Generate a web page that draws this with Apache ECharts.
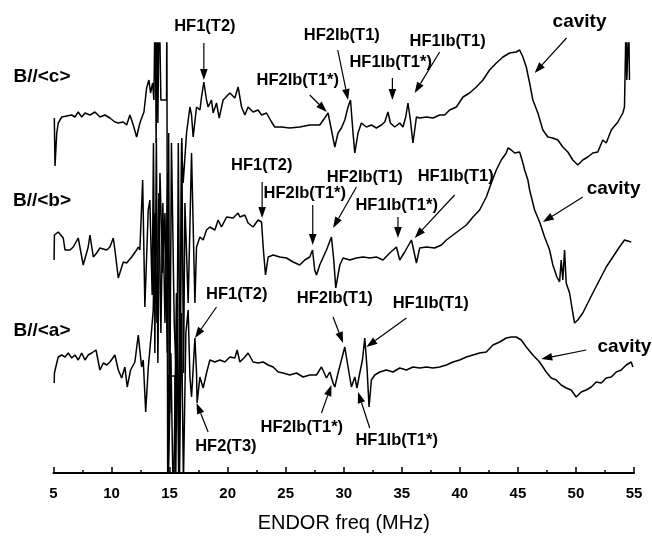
<!DOCTYPE html>
<html><head><meta charset="utf-8">
<script src="https://cdn.jsdelivr.net/npm/echarts@6/dist/echarts.min.js"></script>
<style>html,body{margin:0;padding:0;background:#fff}#chart{width:652px;height:538px}</style>
</head><body><div id="chart"></div>
<script>
// x axis (MHz)
const freqMin = 5, freqMax = 55, freqStep = 5;
const xTitle = 'ENDOR freq (MHz)';
// vertical scale (arb. units, spectra offset)
const sigMin = 0, sigMax = 430;

// B//<c> spectrum: [freq MHz, signal]
const traceC = [[5.07,355],[5.13,307],[5.28,340],[5.41,350],[5.71,356],[6.14,357],[6.57,358],[6.85,356],[7.13,361],[7.43,356],[7.71,360],[8.14,358],[8.57,361],[9.00,356],[9.43,358],[9.86,355],[10.29,351],[10.58,350],[11.01,351],[11.30,348],[11.58,358],[11.87,348],[12.16,336],[12.44,350],[12.79,361],[13.02,385],[13.22,393],[13.36,380],[13.54,390],[13.65,373],[13.76,480],[13.84,330],[13.91,480],[13.99,350],[14.10,480],[14.24,480],[14.25,373],[14.74,373],[14.76,480],[14.80,480],[14.84,-40],[15.11,120],[15.33,-40],[15.59,180],[15.80,-20],[16.03,330],[16.17,290],[16.46,340],[16.75,366],[16.89,358],[17.03,336],[17.32,366],[17.61,363],[17.75,376],[17.95,391],[18.18,373],[18.32,366],[18.61,373],[18.75,360],[19.04,370],[19.27,355],[19.61,373],[20.19,380],[20.62,375],[20.90,386],[21.20,366],[21.48,358],[21.76,366],[22.19,361],[22.62,363],[22.92,358],[23.35,360],[23.78,351],[24.06,346],[24.64,346],[25.35,345],[26.21,346],[27.07,348],[27.93,348],[28.36,355],[28.65,360],[28.94,343],[29.23,326],[29.51,340],[29.80,345],[30.09,353],[30.37,366],[30.58,373],[30.80,340],[30.95,320],[31.23,340],[31.52,350],[31.95,346],[32.38,348],[32.81,345],[33.24,348],[33.53,351],[33.81,361],[34.02,350],[34.39,346],[34.82,350],[35.10,346],[35.34,356],[35.53,370],[35.74,353],[35.96,330],[36.26,356],[36.54,355],[37.12,356],[37.69,355],[38.26,358],[38.69,358],[39.12,363],[39.70,366],[40.27,376],[40.84,380],[41.42,386],[41.99,393],[42.56,403],[43.14,410],[43.71,416],[44.29,420],[44.86,421],[45.15,423],[45.43,416],[45.72,406],[46.01,390],[46.29,373],[46.72,360],[47.15,343],[47.58,336],[48.01,335],[48.44,333],[48.87,326],[49.30,321],[49.73,313],[50.16,308],[50.59,313],[51.02,316],[51.45,320],[51.88,321],[52.31,333],[52.61,330],[53.04,343],[53.61,351],[54.04,360],[54.18,366],[54.31,450],[54.38,393],[54.55,450],[54.61,393]];

// B//<b> spectrum
const traceB = [[5.05,213],[5.08,238],[5.41,241],[5.56,243],[5.84,235],[5.99,223],[6.42,223],[6.70,226],[7.13,235],[7.28,236],[7.56,208],[7.99,226],[8.14,238],[8.43,216],[8.72,220],[9.00,225],[9.58,223],[9.86,226],[10.15,235],[10.29,223],[10.58,195],[11.01,211],[11.30,210],[11.73,216],[12.16,223],[12.30,226],[12.44,223],[12.68,293],[12.87,166],[13.16,263],[13.30,273],[13.50,178],[13.61,330],[13.73,120],[13.86,335],[13.99,110],[14.17,300],[14.40,200],[14.60,260],[14.80,120],[14.92,340],[15.01,60],[15.16,330],[15.40,150],[15.63,80],[15.75,330],[15.90,60],[16.05,335],[16.20,100],[16.32,270],[16.60,170],[16.89,320],[17.18,170],[17.32,226],[17.61,236],[17.89,233],[18.18,243],[18.47,246],[18.90,243],[19.18,253],[19.47,246],[19.91,256],[20.47,255],[20.90,260],[21.05,256],[21.48,258],[21.76,250],[22.19,246],[22.62,253],[22.92,251],[23.06,226],[23.26,198],[23.49,216],[23.92,218],[24.49,216],[25.07,215],[25.64,211],[26.21,208],[26.64,213],[27.07,216],[27.31,223],[27.50,203],[27.65,198],[27.93,208],[28.51,223],[28.94,236],[29.14,213],[29.31,185],[29.66,208],[29.94,215],[30.52,213],[31.09,215],[31.66,216],[32.24,215],[32.81,216],[33.38,213],[33.96,220],[34.54,226],[34.82,213],[35.25,221],[35.83,233],[36.02,223],[36.26,210],[36.54,225],[37.12,226],[37.83,225],[38.41,228],[38.84,233],[39.41,238],[39.98,243],[40.56,248],[41.13,256],[41.70,263],[42.28,276],[42.71,290],[43.14,303],[43.57,313],[44.00,320],[44.14,325],[44.43,323],[44.72,320],[45.15,321],[45.43,310],[45.58,303],[45.86,293],[46.01,283],[46.44,263],[46.87,251],[47.30,236],[47.73,223],[48.01,208],[48.36,196],[48.59,191],[48.73,213],[48.87,193],[49.02,223],[49.16,190],[49.45,180],[49.73,160],[49.88,150],[50.16,153],[50.59,160],[51.02,170],[51.45,180],[52.03,193],[52.61,206],[53.18,216],[53.75,226],[54.18,233],[54.76,231]];

// B//<a> spectrum
const traceA = [[5.06,90],[5.08,100],[5.28,110],[5.41,116],[5.71,118],[5.99,116],[6.27,120],[6.57,115],[6.85,118],[7.13,113],[7.43,120],[7.71,113],[7.99,118],[8.29,120],[8.66,123],[9.00,103],[9.29,110],[9.58,108],[9.86,111],[10.29,118],[10.58,103],[10.87,95],[11.15,106],[11.35,86],[11.64,103],[12.01,111],[12.30,138],[12.59,106],[12.73,113],[12.94,61],[13.16,105],[13.45,143],[13.59,163],[13.73,260],[13.91,150],[14.08,280],[14.25,140],[14.42,270],[14.60,150],[14.84,300],[14.88,-30],[14.89,97],[15.46,97],[15.51,-30],[15.68,170],[15.84,-20],[16.02,160],[16.19,-10],[16.40,140],[16.60,163],[16.75,96],[16.89,76],[17.18,135],[17.32,100],[17.37,70],[17.61,96],[17.89,85],[18.18,100],[18.47,113],[18.90,111],[19.33,113],[19.76,111],[20.19,116],[20.62,115],[20.82,123],[21.05,111],[21.48,116],[21.76,120],[22.19,111],[22.62,110],[23.06,111],[23.49,108],[23.92,106],[24.35,101],[24.78,100],[25.35,98],[25.93,100],[26.50,96],[27.07,98],[27.65,98],[28.08,106],[28.28,101],[28.51,95],[28.80,101],[29.08,90],[29.23,86],[29.51,100],[29.80,113],[30.09,126],[30.37,106],[30.66,86],[30.95,96],[31.14,85],[31.38,100],[31.61,113],[31.81,135],[32.00,106],[32.18,66],[32.38,93],[32.67,98],[33.10,101],[33.67,103],[34.24,101],[34.82,105],[35.40,103],[35.96,106],[36.54,105],[37.12,106],[37.69,105],[38.26,106],[38.84,108],[39.41,111],[39.98,113],[40.56,116],[41.13,118],[41.70,120],[42.28,121],[42.85,128],[43.43,131],[44.00,135],[44.43,136],[44.86,136],[45.29,133],[45.72,126],[46.29,118],[46.87,111],[47.44,101],[47.87,95],[48.30,93],[48.73,88],[49.16,85],[49.59,83],[50.02,76],[50.45,81],[50.88,83],[51.32,86],[51.75,91],[52.18,90],[52.61,95],[53.04,96],[53.47,101],[53.90,103],[54.33,108],[54.76,111],[54.90,106]];

// trace names and where they are written (data units)
const traceLabels = ['B//<c>', 'B//<b>', 'B//<a>'];
const traceLabelAt = [[4.01,396],[4.01,272],[4.01,142]];

// annotations: text, text centre, arrow tail, arrow tip (data units)
const annText = ['HF1(T2)','HF2Ib(T1*)','HF2Ib(T1)','HF1Ib(T1*)','HF1Ib(T1)','cavity',
                 'HF1(T2)','HF2Ib(T1*)','HF2Ib(T1)','HF1Ib(T1*)','HF1Ib(T1)','cavity',
                 'HF1(T2)','HF2(T3)','HF2Ib(T1)','HF1Ib(T1)','HF2Ib(T1*)','HF1Ib(T1*)','cavity'];
const annAt = [[18.04,447],[26.04,393],[29.83,438],[34.04,411],[38.95,432],[50.31,451],
               [22.94,308],[26.64,280],[31.81,296],[34.56,268],[39.64,297],[53.24,284],
               [20.79,179],[19.85,27],[29.23,175],[37.49,170],[26.39,46],[34.56,33],[54.18,126]];
const annFrom = [[17.95,430],[27.07,378],[29.48,423],[34.19,395],[38.26,421],[49.19,435],
                 [22.97,291],[27.33,268],[31.09,286],[34.67,256],[39.55,278],[50.59,276],
                 [19.04,166],[18.32,41],[29.08,156],[35.40,155],[28.08,60],[32.24,45],[50.89,123]];
const annTo = [[17.95,393],[28.54,361],[30.37,373],[34.19,373],[36.11,380],[46.44,400],
               [22.97,255],[27.33,228],[29.08,245],[34.67,235],[36.11,235],[47.15,251],
               [17.18,135],[17.32,70],[29.94,130],[31.95,126],[28.94,88],[31.23,81],[47.01,114]];

const FONT = '"Liberation Sans", Arial, sans-serif';
const chart = echarts.init(document.getElementById('chart'), null, {renderer: 'canvas'});

function lineSeries(data) {
  return {type: 'line', data: data, showSymbol: false, symbol: 'none', clip: true,
          lineStyle: {color: '#000', width: 1.5}, silent: true, animation: false};
}

chart.setOption({
  animation: false,
  backgroundColor: '#fff',
  grid: {left: 53.5, right: 18, top: 43, bottom: 65, containLabel: false},
  xAxis: {
    type: 'value', min: freqMin, max: freqMax, interval: freqStep,
    name: xTitle, nameLocation: 'middle', nameGap: 40,
    nameTextStyle: {fontFamily: FONT, fontSize: 20, color: '#000'},
    axisLine: {show: true, onZero: false, lineStyle: {color: '#000', width: 2}},
    axisTick: {show: true, inside: true, length: 6, lineStyle: {color: '#000', width: 1.5}},
    minorTick: {show: true, splitNumber: 2, length: 3, lineStyle: {color: '#000', width: 1.5}},
    axisLabel: {fontFamily: FONT, fontSize: 15, fontWeight: 'bold', color: '#000', margin: 13},
    splitLine: {show: false}
  },
  yAxis: {type: 'value', min: sigMin, max: sigMax, show: false, splitLine: {show: false}},
  series: [lineSeries(traceC), lineSeries(traceB), lineSeries(traceA)]
});

const px = p => chart.convertToPixel({gridIndex: 0}, p);
const g = [];
traceLabels.forEach((t, i) => {
  const p = px(traceLabelAt[i]);
  g.push({type: 'text', x: p[0], y: p[1], silent: true,
          style: {text: t, fill: '#000', font: 'bold 19px ' + FONT, align: 'center', verticalAlign: 'middle'}});
});
annText.forEach((t, i) => {
  const p = px(annAt[i]);
  const size = t === 'cavity' ? 19 : 16.5;
  g.push({type: 'text', x: p[0], y: p[1], silent: true,
          style: {text: t, fill: '#000', font: 'bold ' + size + 'px ' + FONT, align: 'center', verticalAlign: 'middle'}});
  const a = px(annFrom[i]), b = px(annTo[i]);
  const dx = b[0] - a[0], dy = b[1] - a[1], len = Math.hypot(dx, dy);
  const ux = dx / len, uy = dy / len, L = 11, W = 3.8;
  const bx = b[0] - ux * L, by = b[1] - uy * L;
  g.push({type: 'line', silent: true, shape: {x1: a[0], y1: a[1], x2: bx, y2: by},
          style: {stroke: '#000', lineWidth: 1.2}});
  g.push({type: 'polygon', silent: true,
          shape: {points: [[b[0], b[1]], [bx - uy * W, by + ux * W], [bx + uy * W, by - ux * W]]},
          style: {fill: '#000'}});
});
chart.setOption({graphic: g});
</script>
</body></html>
